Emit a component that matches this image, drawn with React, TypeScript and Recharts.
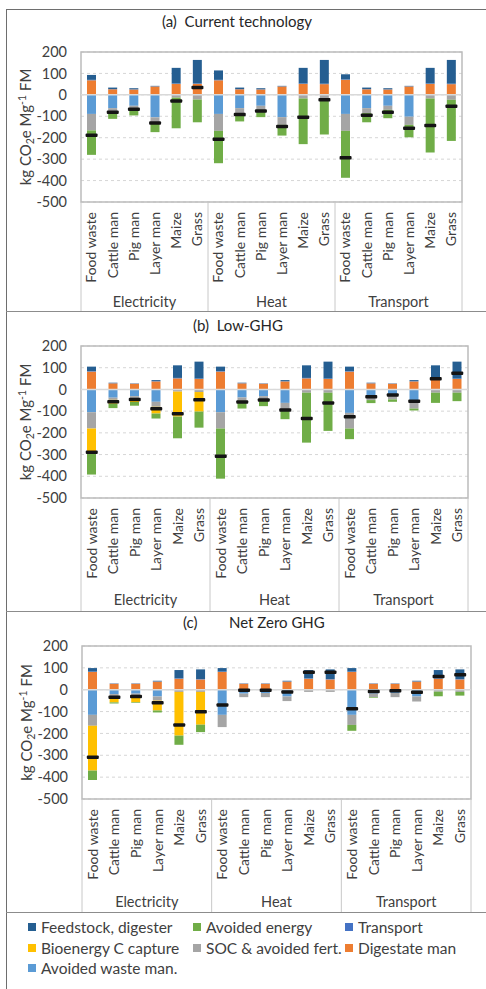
import React from "react";
import {
  ComposedChart,
  Bar,
  Line,
  XAxis,
  YAxis,
  CartesianGrid,
  ReferenceLine,
  ReferenceArea,
} from "recharts";

const FONT = "Lato, 'Open Sans', sans-serif";
const TEXT = "#404040";

const crops = ["Food waste", "Cattle man", "Pig man", "Layer man", "Maize", "Grass"];
const uses = ["Electricity", "Heat", "Transport"];
const yTicks = [200, 100, 0, -100, -200, -300, -400, -500];

// order of the 18 bars: Electricity x6, Heat x6, Transport x6
const transportAll = [2, 1, 1, 1, 2, 2, 2, 1, 1, 1, 2, 2, 2, 1, 1, 1, 2, 2];

// (a) Current technology
const aDigestate = [68, 26, 25, 39, 51, 51, 68, 26, 25, 39, 51, 50, 70, 26, 25, 39, 51, 50];
const aFeedstock = [23, 7, 5, 2, 73, 110, 44, 7, 5, 2, 73, 111, 24, 7, 5, 2, 73, 111];
const aWasteMan = [-89, -62, -51, -105, 0, 0, -89, -62, -51, -104, 0, 0, -89, -62, -51, -102, 0, 0];
const aSoc = [-77, -23, -19, -27, -13, -22, -79, -23, -19, -36, -17, -23, -79, -23, -19, -38, -17, -23];
const aBeccs = [0, 0, 0, 0, 0, 0, 0, 0, 0, 0, 0, 0, 0, 0, 0, 0, 0, 0];
const aEnergy = [-114, -27, -26, -42, -143, -106, -151, -39, -34, -50, -213, -162, -219, -43, -39, -58, -252, -192];
const aNet = [-188, -81, -67, -131, -29, 34, -207, -92, -75, -148, -104, -23, -294, -95, -81, -156, -143, -53];

// (b) Low-GHG
const bDigestate = [82, 28, 26, 37, 51, 48, 82, 28, 26, 37, 51, 48, 82, 28, 26, 37, 51, 48];
const bFeedstock = [21, 2, 1, 5, 58, 78, 21, 2, 1, 5, 58, 78, 21, 2, 1, 5, 58, 78];
const bWasteMan = [-105, -38, -31, -57, 0, 0, -105, -37, -31, -62, 0, 0, -108, -26, -22, -49, 0, 0];
const bSoc = [-75, -10, -9, -23, -10, -12, -75, -15, -15, -30, -15, -15, -72, -23, -24, -39, -15, -15];
const bBeccs = [-115, -18, -18, -31, -115, -90, 0, 0, 0, 0, 0, 0, 0, 0, 0, 0, 0, 0];
const bEnergy = [-97, -20, -17, -23, -100, -74, -231, -36, -31, -45, -230, -176, -49, -14, -11, -9, -47, -39];
const bNet = [-289, -57, -46, -89, -112, -47, -308, -58, -49, -95, -134, -62, -126, -34, -26, -54, 49, 75];

// (c) Net Zero GHG
const cDigestate = [81, 27, 27, 37, 50, 47, 81, 27, 27, 37, 50, 47, 81, 27, 27, 37, 50, 47];
const cFeedstock = [16, 1, 1, 3, 38, 44, 16, 1, 1, 3, 38, 44, 16, 1, 1, 3, 38, 44];
const cWasteMan = [-115, -20, -18, -31, 0, 0, -115, -18, -15, -31, 0, 0, -115, -18, -15, -31, 0, 0];
const cSoc = [-50, -10, -10, -19, -10, -10, -56, -16, -19, -21, -10, -10, -46, -16, -19, -23, -9, -10];
const cBeccs = [-205, -28, -29, -45, -200, -150, 0, 0, 0, 0, 0, 0, 0, 0, 0, 0, 0, 0];
const cEnergy = [-43, -5, -3, -9, -42, -34, 0, 0, 0, 0, 0, 0, -27, -3, 0, 0, -21, -17];
const cNet = [-309, -35, -31, -60, -161, -101, -70, -3, -3, -10, 80, 80, -87, -8, -5, -12, 61, 68];

// stack order: positives from 0 upward, negatives from 0 downward
const SERIES = [
  { key: "digestate", name: "Digestate man", color: "#ed7d31" },
  { key: "transport", name: "Transport", color: "#4472c4" },
  { key: "feedstock", name: "Feedstock, digester", color: "#255e91" },
  { key: "wasteMan", name: "Avoided waste man.", color: "#5b9bd5" },
  { key: "soc", name: "SOC & avoided fert.", color: "#a5a5a5" },
  { key: "beccs", name: "Bioenergy C capture", color: "#ffc000" },
  { key: "energy", name: "Avoided energy", color: "#70ad47" },
];

const legendRows = [
  ["Feedstock, digester", "Avoided energy", "Transport"],
  ["Bioenergy C capture", "SOC & avoided fert.", "Digestate man"],
  ["Avoided waste man."],
];

function buildRows(
  digestate: number[],
  feedstock: number[],
  wasteMan: number[],
  soc: number[],
  beccs: number[],
  energy: number[],
  net: number[]
) {
  return digestate.map((_, i) => ({
    cat: crops[i % 6],
    grp: uses[Math.floor(i / 6)],
    digestate: digestate[i],
    transport: transportAll[i],
    feedstock: feedstock[i],
    wasteMan: wasteMan[i],
    soc: soc[i],
    beccs: beccs[i],
    energy: energy[i],
    net: net[i],
  }));
}

const dataA = buildRows(aDigestate, aFeedstock, aWasteMan, aSoc, aBeccs, aEnergy, aNet);
const dataB = buildRows(bDigestate, bFeedstock, bWasteMan, bSoc, bBeccs, bEnergy, bNet);
const dataC = buildRows(cDigestate, cFeedstock, cWasteMan, cSoc, cBeccs, cEnergy, cNet);

function CatTick(props: any) {
  const { x, y, payload } = props;
  const ty = y + 10;
  return (
    <text
      x={x}
      y={ty}
      dy="0.35em"
      transform={`rotate(-90, ${x}, ${ty})`}
      textAnchor="end"
      fontSize={14}
      fill={TEXT}
      fontFamily={FONT}
    >
      {payload.value}
    </text>
  );
}

const makeGroupTick = (gw: number, catH: number, grpH: number) => (props: any) => {
  const { x, y, payload } = props;
  return (
    <g>
      <line x1={x - gw / 2} x2={x - gw / 2} y1={y - catH} y2={y + grpH} stroke="#c8c8c8" />
      {payload.value === "Transport" && (
        <line x1={x + gw / 2} x2={x + gw / 2} y1={y - catH} y2={y + grpH} stroke="#c8c8c8" />
      )}
      <text x={x} y={y + 23} textAnchor="middle" fontSize={14.5} fill={TEXT} fontFamily={FONT}>
        {payload.value}
      </text>
    </g>
  );
};

function YLabel(props: any) {
  const vb = props.viewBox || {};
  const cx = vb.x + 10;
  const cy = vb.y + vb.height / 2;
  return (
    <text
      x={cx}
      y={cy}
      transform={`rotate(-90, ${cx}, ${cy})`}
      textAnchor="middle"
      fontSize={15}
      fill={TEXT}
      fontFamily={FONT}
    >
      kg CO
      <tspan dy={3} fontSize={10.5}>2</tspan>
      <tspan dy={-3}>e Mg</tspan>
      <tspan dy={-5} fontSize={10.5}>-1</tspan>
      <tspan dy={5}> FM</tspan>
    </text>
  );
}

function NetMark(props: any) {
  const { cx, cy, key } = props;
  if (cx == null || cy == null) return <g key={key} />;
  return <rect key={key} x={cx - 6} y={cy - 1.75} width={12} height={3.5} fill="#141414" rx={1} />;
}

interface PanelProps {
  top: number;
  height: number;
  plotTop: number;
  plotLeft: number;
  plotRight: number;
  catH: number;
  grpH: number;
  data: any[];
}

function Panel({ top, height, plotTop, plotLeft, plotRight, catH, grpH, data }: PanelProps) {
  const gw = (plotRight - plotLeft) / 3;
  return (
    <div style={{ position: "absolute", left: 0, top, width: 486, height }}>
      <ComposedChart
        width={486}
        height={height}
        data={data}
        stackOffset="sign"
        margin={{ top: plotTop, right: 486 - plotRight, bottom: 0, left: plotLeft - 60 }}
      >
        <CartesianGrid vertical={false} strokeDasharray="3 3" stroke="#d6d6d6" />
        <ReferenceLine y={0} stroke="#d9d9d9" strokeWidth={1.5} />
        <XAxis
          dataKey="cat"
          height={catH}
          interval={0}
          tickLine={false}
          axisLine={false}
          tickSize={0}
          tickMargin={0}
          tick={<CatTick />}
        />
        <XAxis
          xAxisId="grp"
          dataKey="grp"
          allowDuplicatedCategory={false}
          height={grpH}
          interval={0}
          tickLine={false}
          axisLine={false}
          tickSize={0}
          tickMargin={0}
          tick={makeGroupTick(gw, catH, grpH)}
        />
        <YAxis
          type="number"
          domain={[-500, 200]}
          ticks={yTicks}
          interval={0}
          width={60}
          tickLine={false}
          axisLine={false}
          tickSize={0}
          tickMargin={14}
          tick={{ fill: TEXT, fontSize: 14.5, fontFamily: FONT }}
          label={{ content: (p: any) => <YLabel {...p} /> }}
        />
        {SERIES.map((s) => (
          <Bar
            key={s.key}
            dataKey={s.key}
            name={s.name}
            stackId="total"
            fill={s.color}
            barSize={9}
            isAnimationActive={false}
          />
        ))}
        <Line
          dataKey="net"
          stroke="none"
          dot={NetMark}
          activeDot={false}
          legendType="none"
          isAnimationActive={false}
        />
        <ReferenceArea
          y1={-500}
          y2={200}
          fill="none"
          stroke="#bcbcbc"
          strokeWidth={1.5}
          ifOverflow="visible"
        />
      </ComposedChart>
    </div>
  );
}

const colorOf = (name: string) => SERIES.find((s) => s.name === name)?.color;

export default function App() {
  const titleStyle: React.CSSProperties = {
    position: "absolute",
    height: 18,
    lineHeight: "18px",
    fontSize: 15,
    color: "#262626",
    whiteSpace: "pre",
  };
  const legendX = [28, 193, 345];
  const legendY = [918, 939, 959];
  return (
    <div
      style={{
        position: "absolute",
        left: 0,
        top: 0,
        width: 486,
        height: 989,
        background: "#fff",
        overflow: "hidden",
        fontFamily: FONT,
      }}
    >
      {/* figure frame */}
      <div
        style={{
          position: "absolute",
          left: 6,
          top: 9,
          width: 500,
          height: 1000,
          borderLeft: "1px solid #6e6e6e",
          borderTop: "1px solid #6e6e6e",
        }}
      />
      {[311, 611, 912].map((y) => (
        <div
          key={y}
          style={{ position: "absolute", left: 6, top: y, width: 480, height: 0, borderTop: "1px solid #8c8c8c" }}
        />
      ))}

      <div style={{ ...titleStyle, left: 0, top: 12, width: 474, textAlign: "center" }}>(a)  Current technology</div>
      <div style={{ ...titleStyle, left: 0, top: 316, width: 476, textAlign: "center" }}>(b)  Low-GHG</div>
      <div style={{ ...titleStyle, left: 183, top: 613 }}>(c)</div>
      <div style={{ ...titleStyle, left: 229, top: 613 }}>Net Zero GHG</div>

      <Panel top={0} height={311} plotTop={52} plotLeft={81} plotRight={462} catH={82} grpH={27} data={dataA} />
      <Panel top={311} height={300} plotTop={35} plotLeft={81} plotRight={468} catH={84} grpH={29} data={dataB} />
      <Panel top={611} height={301} plotTop={35} plotLeft={82} plotRight={471} catH={85} grpH={28} data={dataC} />

      {legendRows.map((row, r) =>
        row.map((name, c) => (
          <div
            key={name}
            style={{
              position: "absolute",
              left: legendX[c],
              top: legendY[r],
              height: 18,
              lineHeight: "18px",
              fontSize: 15.5,
              color: TEXT,
              whiteSpace: "nowrap",
              display: "flex",
              alignItems: "center",
            }}
          >
            <span
              style={{ display: "inline-block", width: 8, height: 8, background: colorOf(name), marginRight: 5 }}
            />
            {name}
          </div>
        ))
      )}
    </div>
  );
}
